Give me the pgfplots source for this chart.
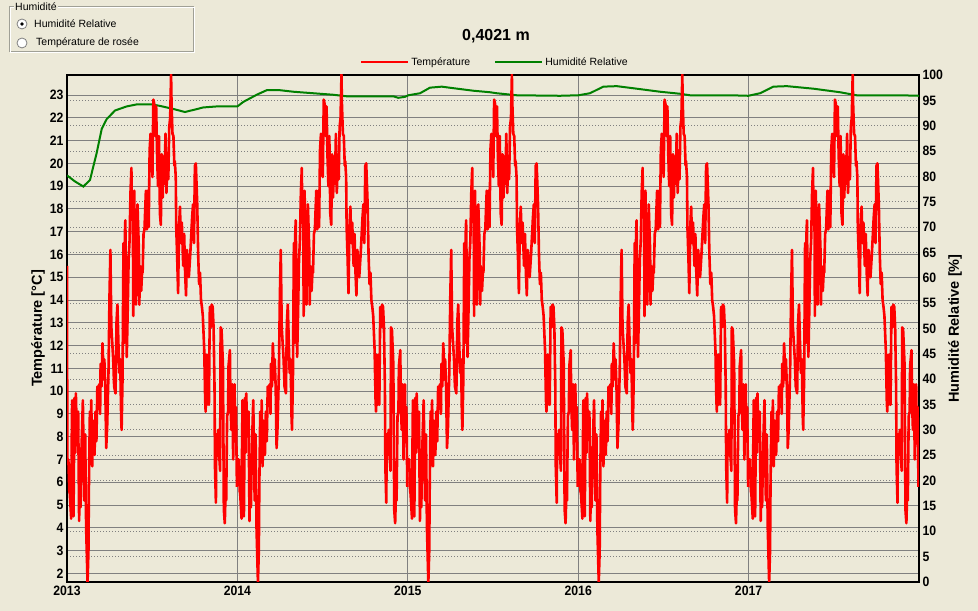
\documentclass[border=0pt]{standalone}
\usepackage{fontspec}
\setmainfont{Liberation Sans}
\newfontfamily\tickfont[FakeStretch=0.9]{Liberation Sans}
\usepackage{pgfplots}
\pgfplotsset{compat=1.18}
\usepackage{pgfplotstable}
\definecolor{bg}{HTML}{ECE9D8}
\definecolor{gridgray}{HTML}{808080}
\definecolor{hgreen}{HTML}{008000}
\definecolor{boxgray}{HTML}{A0A096}

% one year of temperature values (day of year, deg C); the year repeats
\pgfplotstableread{
d T
0 7.0
3 7.0
5 5.6
6 5.5
9 4.4
10 7.5
11 9.6
14 4.5
16 9.7
18 7.3
19 9.9
21 8.1
24 9.1
26 4.3
28 7.0
29 4.9
31 7.4
34 9.6
37 5.2
39 8.1
41 4.0
44 1.6
46 3.0
47 5.8
49 9.1
51 7.4
52 9.6
54 6.7
56 8.7
59 7.2
61 9.1
63 7.8
65 10.2
67 9.4
69 10.3
71 9.0
72 11.2
74 10.2
76 12.1
79 10.5
80 11.4
82 10.2
84 7.5
86 8.4
89 10.9
91 14.1
93 16.2
95 12.8
97 12.1
99 11.4
101 10.2
104 9.9
106 13.0
108 13.8
110 12.2
112 10.8
114 11.4
116 8.9
117 8.3
119 10.6
121 16.5
122 12.1
124 16.9
125 17.5
126 15.5
128 11.5
130 13.5
132 15.8
134 16.6
136 18.7
138 19.8
139 17.8
141 18.5
142 13.3
144 18.8
146 15.5
148 13.8
149 15.5
151 18.2
152 17.5
154 16.2
155 13.8
156 15.5
158 15.0
159 14.4
161 15.3
162 15.2
164 16.9
166 17.1
169 18.8
171 17.1
173 18.8
175 17.2
177 20.6
179 21.3
180 20.3
181 21.0
183 19.4
185 22.8
187 22.6
189 21.2
191 22.5
193 20.3
195 19.0
197 21.2
199 17.8
201 17.3
203 20.4
205 18.5
207 20.3
209 19.1
211 21.3
213 18.7
215 20.0
217 19.3
219 21.6
221 22.0
223 23.9
224 22.6
226 21.3
228 21.2
230 19.9
231 20.1
233 19.4
234 17.2
236 15.9
238 14.3
240 17.2
242 18.1
244 16.5
246 17.4
249 15.5
251 16.9
253 15.2
255 14.2
257 16.2
259 15.6
261 15.0
264 16.0
266 16.8
268 17.6
270 18.2
272 16.5
274 19.9
276 20.0
279 18.2
281 16.0
283 14.7
285 15.2
287 14.0
289 13.7
291 13.3
294 11.8
296 9.6
297 9.1
299 11.6
300 9.4
302 11.6
304 9.4
306 13.7
308 12.8
310 13.8
312 13.7
314 12.8
316 10.2
317 6.7
319 5.1
320 8.1
322 7.2
324 8.3
326 7.2
328 6.5
329 12.8
331 12.7
334 11.2
335 8.1
336 4.8
338 4.2
340 5.8
341 5.2
343 8.9
345 9.1
346 11.1
349 11.8
350 9.6
352 8.3
354 10.3
356 7.0
357 8.9
359 10.3
360 7.8
362 9.3
364 5.8
}\tempdata

\pgfplotstableread{
x H
2013.000 80.2
2013.047 79.0
2013.096 78.0
2013.135 79.3
2013.174 84.6
2013.204 89.4
2013.233 91.3
2013.282 93.0
2013.350 93.8
2013.409 94.2
2013.497 94.2
2013.546 93.9
2013.624 93.3
2013.692 92.7
2013.741 93.1
2013.800 93.6
2013.879 93.8
2014.000 93.8
2014.035 94.7
2014.113 96.1
2014.172 97.0
2014.250 97.0
2014.328 96.7
2014.445 96.4
2014.563 96.1
2014.641 95.8
2014.915 95.8
2014.944 95.5
2014.984 95.7
2015.003 96.0
2015.072 96.4
2015.130 97.5
2015.199 97.7
2015.267 97.4
2015.384 96.9
2015.482 96.6
2015.522 96.4
2015.639 96.0
2015.893 95.9
2016.001 96.0
2016.069 96.4
2016.147 97.7
2016.226 97.8
2016.343 97.3
2016.480 96.7
2016.597 96.3
2016.656 96.0
2016.891 96.0
2016.998 95.9
2017.067 96.4
2017.145 97.7
2017.224 97.8
2017.380 97.3
2017.536 96.6
2017.634 96.0
2017.888 96.0
2018.000 95.9
}\humdata

\pgfplotsset{
  base/.style={
    at={(0,0)}, anchor=south west, scale only axis,
    width=852bp, height=507bp,
    xmin=2013, xmax=2018,
    major tick length=0pt, minor tick length=0pt,
    /pgf/number format/assume math mode=true,
    ticklabel style={font=\tickfont\bfseries\fontsize{13.6bp}{14bp}\selectfont},
    axis line style={line width=2bp, black},
  },
  tline/.style={red, line width=2.6bp, line join=round, forget plot},
}

\begin{document}
\begin{tikzpicture}
\fill[bg] (-67bp,-29bp) rectangle (911bp,582bp);

% group box "Humidite"
\draw[boxgray, line width=1bp] (-57bp,530.3bp) rectangle (126bp,575.3bp);
\draw[white, line width=1bp] (-56bp,529.3bp) rectangle (127bp,574.3bp);
\node[fill=bg, inner sep=1bp, anchor=west, font=\fontsize{10.5bp}{12bp}\selectfont] at (-53bp,575.6bp) {Humidité};
\fill[white] (-45bp,558bp) circle (5bp);
\draw[gray, line width=0.8bp] (-45bp,558bp) circle (5bp);
\fill[black] (-45bp,558bp) circle (1.8bp);
\fill[white] (-45bp,539bp) circle (5bp);
\draw[gray, line width=0.8bp] (-45bp,539bp) circle (5bp);
\node[anchor=west, inner sep=0pt, font=\fontsize{10.5bp}{12bp}\selectfont] at (-33bp,558bp) {Humidité Relative};
\node[anchor=west, inner sep=0pt, font=\fontsize{10.5bp}{12bp}\selectfont] at (-31bp,539bp) {Température de rosée};

% title
\node[font=\bfseries\fontsize{16bp}{18bp}\selectfont] at (429bp,545.7bp) {0,4021 m};

% temperature axis: frame, solid grid, left labels
\begin{axis}[base,
  ymin=1.62, ymax=23.88,
  ytick={2,...,23},
  xtick={2013,2014,2015,2016,2017},
  xticklabels={2013,2014,2015,2016,2017},
  tick pos=left,
  grid=major,
  major grid style={gridgray, line width=1bp},
  ylabel={Température [°C]},
  ylabel style={font=\bfseries\fontsize{14.5bp}{16bp}\selectfont, at={(axis description cs:-0.034,0.5)}, anchor=center},
]
\end{axis}

% humidity axis: dotted grid, right labels, green curve
\begin{axis}[base,
  ymin=0, ymax=100,
  ytick={0,5,...,100},
  xtick=\empty,
  ytick pos=right,
  ymajorgrids,
  major grid style={gridgray, line width=1bp, dash pattern=on 1bp off 2bp},
  ylabel={Humidité Relative [\%]},
  ylabel style={font=\bfseries\fontsize{14.5bp}{16bp}\selectfont, at={(axis description cs:1.0423,0.5)}, anchor=center},
]
\addplot[hgreen, line width=2bp, forget plot] table[x=x, y=H] {\humdata};
\end{axis}

% temperature curve on top
\begin{axis}[base,
  ymin=1.62, ymax=23.88,
  hide axis,
  legend columns=2,
  legend image code/.code={\draw[#1] (0bp,0bp) -- (47bp,0bp);},
  legend style={at={(0.5,1)}, anchor=center, yshift=13bp, xshift=2bp,
    draw=none, fill=none, inner sep=0pt,
    font=\fontsize{10.5bp}{12bp}\selectfont,
    nodes={inner sep=2bp},
    /tikz/every even column/.append style={column sep=22bp}},
]
\addlegendimage{red, line width=2bp}
\addlegendentry{Température}
\addlegendimage{hgreen, line width=2bp}
\addlegendentry{Humidité Relative}
\addplot[tline] coordinates {(2013,15.5) (2013.002,7.0)};
\addplot[tline] table[x expr={\thisrow{d}/365+2013}, y=T] {\tempdata};
\addplot[tline] table[x expr={\thisrow{d}/365+2014}, y=T] {\tempdata};
\addplot[tline] table[x expr={\thisrow{d}/365+2015}, y=T] {\tempdata};
\addplot[tline] table[x expr={\thisrow{d}/365+2016}, y=T] {\tempdata};
\addplot[tline] table[x expr={\thisrow{d}/365+2017}, y=T] {\tempdata};
\end{axis}
\end{tikzpicture}
\end{document}
